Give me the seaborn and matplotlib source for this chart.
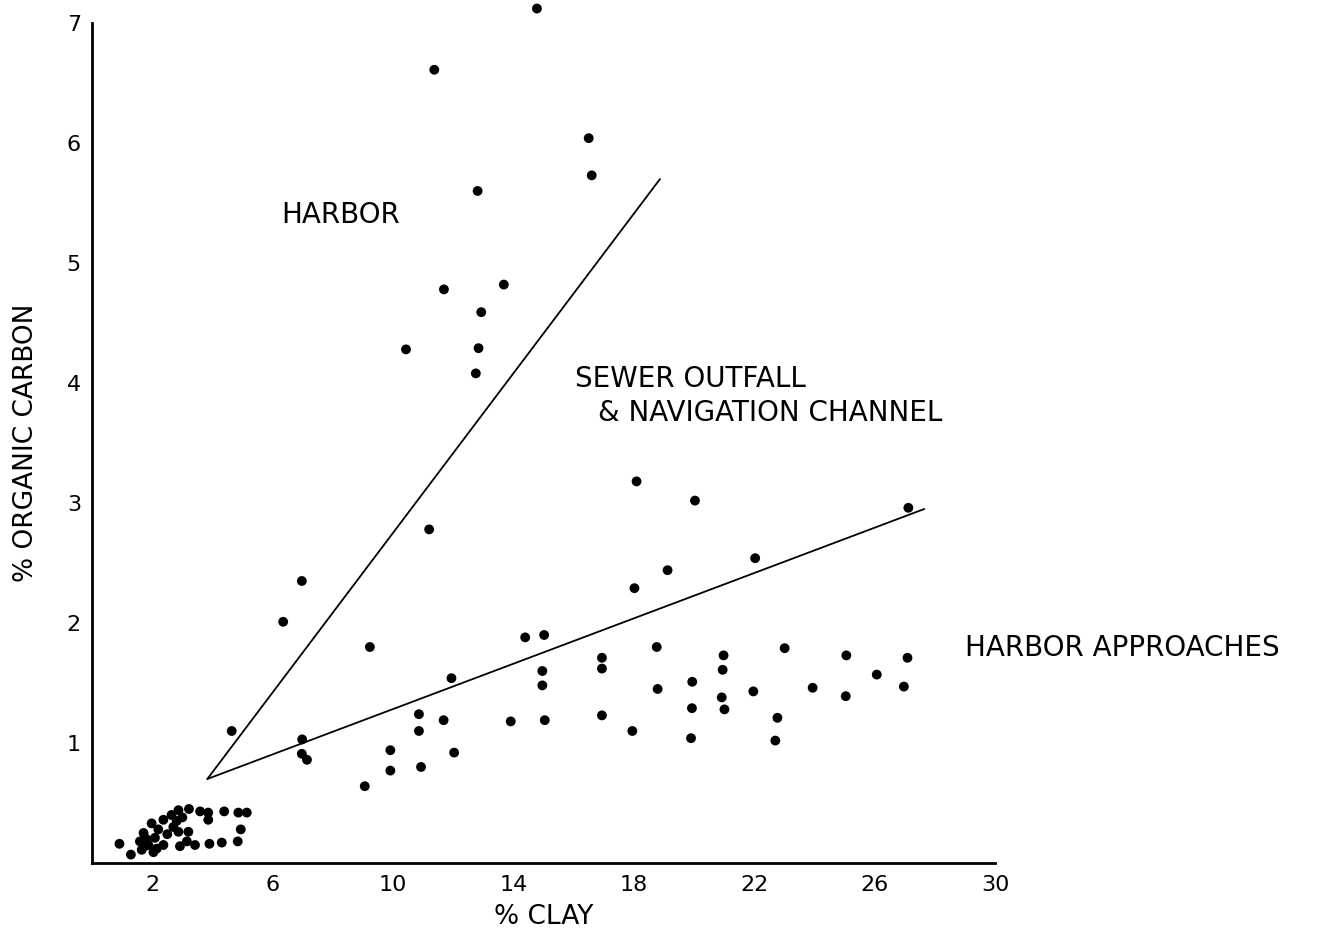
import matplotlib
matplotlib.use("Agg")
import matplotlib.pyplot as plt
import seaborn as sns
import pandas as pd

# ---- data ----
harbor_clay = [14.78, 11.37, 16.5, 16.6, 12.81, 11.69, 13.68, 12.93, 10.43, 12.84,
               12.75, 11.2, 6.97, 6.35, 4.64]
harbor_carbon = [7.12, 6.61, 6.04, 5.73, 5.60, 4.78, 4.82, 4.59, 4.28, 4.29,
                 4.08, 2.78, 2.35, 2.01, 1.10]

channel_clay = [9.23, 14.39, 15.02, 14.96, 14.96, 11.94, 6.98, 6.97, 7.14, 9.06,
                9.91, 9.91, 10.86, 10.86, 10.93, 11.68, 12.03, 13.91, 15.04, 16.94,
                16.94, 16.94, 17.95, 18.76, 18.79, 18.09, 20.03, 27.12, 22.03, 19.12,
                18.02, 20.98, 20.95, 23.01, 25.06, 27.09, 26.07, 19.94, 21.97, 23.94,
                25.04, 26.97, 20.92, 21.01, 19.93, 19.9, 22.77, 22.7]
channel_carbon = [1.80, 1.88, 1.90, 1.60, 1.48, 1.54, 1.03, 0.91, 0.86, 0.64,
                  0.94, 0.77, 1.24, 1.10, 0.80, 1.19, 0.92, 1.18, 1.19, 1.71,
                  1.62, 1.23, 1.10, 1.80, 1.45, 3.18, 3.02, 2.96, 2.54, 2.44,
                  2.29, 1.73, 1.61, 1.79, 1.73, 1.71, 1.57, 1.51, 1.43, 1.46,
                  1.39, 1.47, 1.38, 1.28, 1.29, 1.04, 1.21, 1.02]

sandy_clay = [0.91, 1.29, 1.71, 1.98, 1.59, 1.65, 1.87, 2.09, 2.2, 2.37,
              2.64, 2.87, 3.22, 2.37, 2.81, 2.87, 2.92, 3.2, 3.15, 3.42,
              3.59, 3.86, 3.86, 3.9, 4.31, 4.39, 4.86, 5.14, 4.94, 4.84,
              2.04, 1.8, 2.5, 2.7, 3.0, 1.75, 2.15]
sandy_carbon = [0.16, 0.07, 0.25, 0.33, 0.18, 0.11, 0.15, 0.21, 0.28, 0.36,
                0.40, 0.44, 0.45, 0.15, 0.35, 0.26, 0.14, 0.26, 0.18, 0.15,
                0.43, 0.42, 0.36, 0.16, 0.17, 0.43, 0.42, 0.42, 0.28, 0.18,
                0.09, 0.20, 0.24, 0.30, 0.38, 0.14, 0.12]

# boundary lines
line1_clay = [3.83, 18.87]
line1_carbon = [0.70, 5.70]
line2_clay = [3.83, 27.65]
line2_carbon = [0.70, 2.95]

x_ticks = [2, 6, 10, 14, 18, 22, 26, 30]
y_ticks = [1, 2, 3, 4, 5, 6, 7]

df = pd.DataFrame({
    "clay": harbor_clay + channel_clay + sandy_clay,
    "carbon": harbor_carbon + channel_carbon + sandy_carbon,
})

sns.set_style("white")
plt.rcParams["font.family"] = ["DejaVu Sans"]
plt.rcParams["text.color"] = "black"
plt.rcParams["axes.labelcolor"] = "black"

fig = plt.figure(figsize=(13.36, 9.41), dpi=100)
ax = fig.add_axes([0.0689, 0.0829, 0.6759, 0.8927])

sns.scatterplot(data=df, x="clay", y="carbon", color="black", s=50,
                edgecolor="none", ax=ax, clip_on=False, zorder=3)

ax.plot(line1_clay, line1_carbon, color="black", lw=1.3)
ax.plot(line2_clay, line2_carbon, color="black", lw=1.3)

ax.set_xlim(0, 30)
ax.set_ylim(0, 7)
ax.set_xticks(x_ticks)
ax.set_yticks(y_ticks)
ax.set_xticklabels([str(t) for t in x_ticks], fontsize=16)
ax.set_yticklabels([str(t) for t in y_ticks], fontsize=16)
ax.tick_params(axis="both", direction="in", length=11, width=1.8, color="black",
               labelcolor="black")
ax.tick_params(axis="x", pad=9)
ax.tick_params(axis="y", pad=8)

for side in ["top", "right"]:
    ax.spines[side].set_visible(False)
for side in ["left", "bottom"]:
    ax.spines[side].set_color("black")
    ax.spines[side].set_linewidth(2.0)

ax.set_xlabel("% CLAY", fontsize=19, labelpad=6, color="black")
ax.set_ylabel("% ORGANIC CARBON", fontsize=19, labelpad=20, color="black")

txt = dict(fontsize=20, color="black", clip_on=False)
ax.text(6.3, 5.4, "HARBOR", ha="left", va="center", **txt)
ax.text(16.05, 4.03, "SEWER OUTFALL", ha="left", va="center", **txt)
ax.text(16.8, 3.75, "& NAVIGATION CHANNEL", ha="left", va="center", **txt)
ax.text(29.0, 1.79, "HARBOR APPROACHES", ha="left", va="center", **txt)

fig.savefig("out.png", dpi=100, facecolor="white")
